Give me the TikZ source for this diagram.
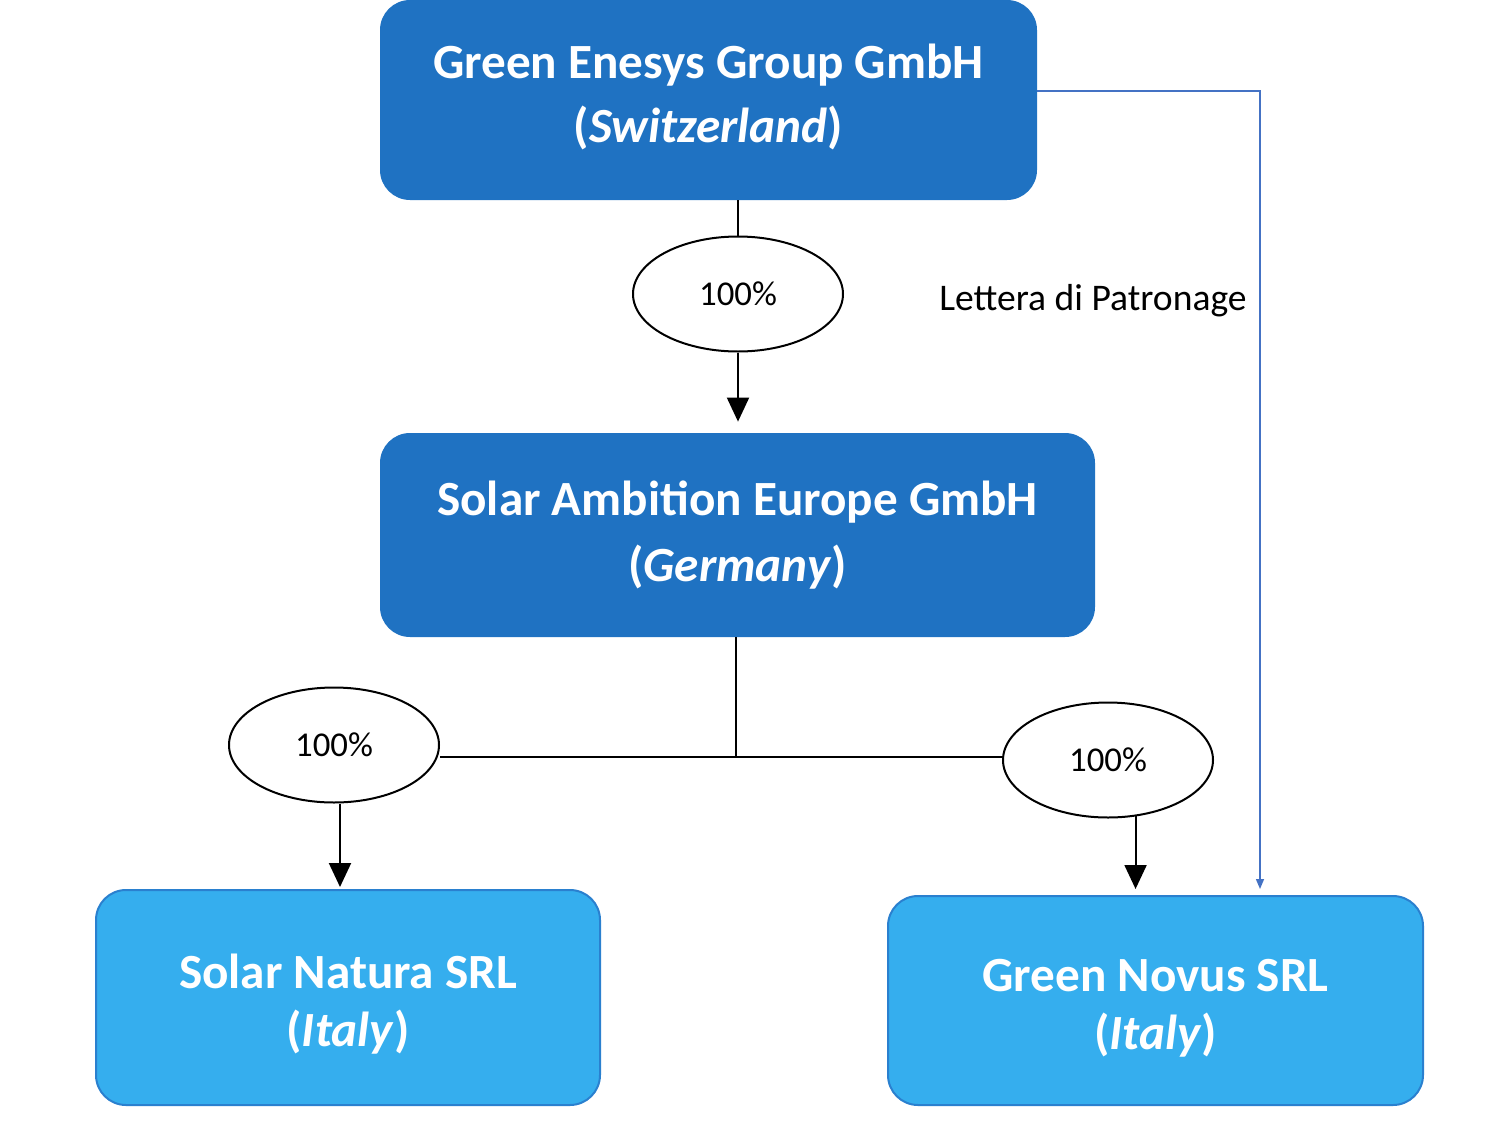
\documentclass[tikz,border=0pt]{standalone}
\usepackage{fontspec}
\setmainfont{Carlito}
\usetikzlibrary{shapes.geometric,arrows.meta,calc}
\definecolor{darkbox}{HTML}{1F72C2}
\definecolor{lightbox}{HTML}{35AEEE}
\definecolor{lightedge}{HTML}{2A80CF}
\definecolor{patline}{HTML}{4472C4}
\tikzset{
  compbox/.style={rounded corners=15pt, align=center, text=white, inner sep=0pt, font=\bfseries},
  topbox/.style={compbox, fill=darkbox},
  subbox/.style={compbox, fill=lightbox, draw=lightedge, line width=1pt},
  share/.style={ellipse, draw=black, line width=1pt, fill=white, inner sep=0pt,
    minimum width=105pt, minimum height=57.5pt, font=\fontsize{17.4}{19}\selectfont},
  conn/.style={draw=black, line width=1pt},
  arr/.style={conn, -{Triangle[length=12pt,width=11pt]}},
  patr/.style={draw=patline, line width=0.75pt, -{Triangle[length=5pt,width=4pt]}}
}
\begin{document}
\begin{tikzpicture}[x=0.5pt,y=-0.5pt]
\useasboundingbox (0,0) rectangle (1500,1125);
\node[topbox, minimum width=328.5pt, minimum height=100pt, font=\bfseries\fontsize{24.6}{32}\selectfont]
  (top) at (708.5,100) {Green Enesys Group GmbH\\(\textit{Switzerland})\rule[-7pt]{0pt}{0pt}};
\node[topbox, minimum width=357.5pt, minimum height=102pt, font=\bfseries\fontsize{24.6}{33}\selectfont]
  (mid) at (737.5,535) {Solar Ambition Europe GmbH\\(\textit{Germany})};
\node[subbox, minimum width=252pt, minimum height=107.5pt, font=\bfseries\fontsize{24.6}{29}\selectfont]
  (left) at (348,997.5) {\rule{0pt}{24pt}Solar Natura SRL\\(\textit{Italy})};
\node[subbox, minimum width=267.5pt, minimum height=104.5pt, font=\bfseries\fontsize{24.6}{29}\selectfont]
  (right) at (1155.5,1000.5) {\rule{0pt}{24pt}Green Novus SRL\\(\textit{Italy})};
\node[share] (e1) at (738,294) {100\%};
\node[share] (e2) at (334,745) {100\%};
\node[share] (e3) at (1108,760) {100\%};
\node[font=\fontsize{18.8}{22}\selectfont, inner sep=0pt] (lab) at (1093,301) {Lettera di Patronage};
\coordinate (j) at (736,757);
\coordinate (bt) at (1260,889);
% connectors
\draw[conn] (top.south -| e1.north) -- (e1.north);
\draw[arr, shorten >=5.5pt] (e1.south) -- (e1.south |- mid.north);
\draw[conn] (mid.south -| j) -- (j);
\draw[conn] (j -| e2.east) -- (j -| e3.west);
\draw[arr, shorten >=1pt] ($(e2.south)+(6,0)$) -- ($(e2.south |- left.north)+(6,0)$);
\draw[arr, shorten >=3pt] (e3.-64) -- (e3.-64 |- right.north);
\draw[patr] ($(top.east)+(0,-9)$) -| (bt);
\end{tikzpicture}
\end{document}
